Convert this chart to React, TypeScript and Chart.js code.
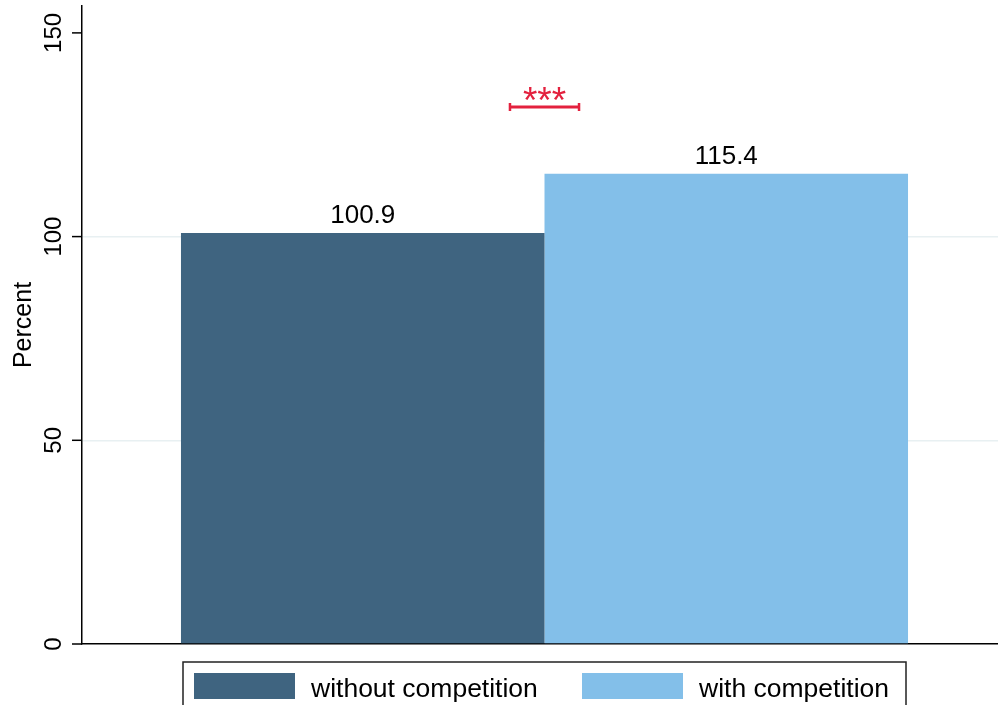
import React, { useEffect, useRef } from 'react';
import { Chart, registerables } from 'chart.js';

Chart.register(...registerables);

const categories = ['without competition', 'with competition'];
const values = [100.9, 115.4];
const colors = ['#3f6480', '#83bfe9'];
const yTicks = [0, 50, 100, 150];
const gridTicks = [50, 100];
const yTitle = 'Percent';
const significance = '***';
const bracketLevel = 131.8;
const yMax = 156.6;

const FONT = "'Liberation Sans', Arial, Helvetica, sans-serif";
const SIG_COLOR = '#e3213e';

const overlay = {
  id: 'overlay',
  afterDatasetsDraw(chart: any) {
    const ctx = chart.ctx as CanvasRenderingContext2D;
    const y = chart.scales.y;
    const area = chart.chartArea;
    ctx.save();
    ctx.fillStyle = '#000';
    ctx.strokeStyle = '#000';
    ctx.lineWidth = 1.5;
    ctx.font = `24px ${FONT}`;
    yTicks.forEach((t) => {
      const py = y.getPixelForValue(t);
      ctx.beginPath();
      ctx.moveTo(area.left - 10, py);
      ctx.lineTo(area.left, py);
      ctx.stroke();
      ctx.save();
      ctx.translate(area.left - 21, py);
      ctx.rotate(-Math.PI / 2);
      ctx.textAlign = 'center';
      ctx.textBaseline = 'alphabetic';
      ctx.fillText(String(t), 0, 0);
      ctx.restore();
    });
    // axis title
    ctx.save();
    ctx.translate(31, (area.top + area.bottom) / 2);
    ctx.rotate(-Math.PI / 2);
    ctx.textAlign = 'center';
    ctx.textBaseline = 'alphabetic';
    ctx.font = `25px ${FONT}`;
    ctx.fillText(yTitle, 0, 0);
    ctx.restore();

    // value labels
    ctx.font = `26px ${FONT}`;
    ctx.textAlign = 'center';
    ctx.textBaseline = 'alphabetic';
    chart.data.datasets.forEach((ds: any, i: number) => {
      const meta = chart.getDatasetMeta(i);
      meta.data.forEach((bar: any, j: number) => {
        ctx.fillText(Number(ds.data[j]).toFixed(1), bar.x, bar.y - 10);
      });
    });

    // significance bracket
    const b0 = chart.getDatasetMeta(0).data[0];
    const b1 = chart.getDatasetMeta(1).data[0];
    const mid = (b0.x + b1.x) / 2;
    const bw = b1.x - b0.x;
    const half = bw * 0.095;
    const by = y.getPixelForValue(bracketLevel);
    ctx.fillStyle = SIG_COLOR;
    ctx.font = `37px ${FONT}`;
    ctx.fillText(significance, mid, by + 6);
    ctx.strokeStyle = SIG_COLOR;
    ctx.lineWidth = 3;
    ctx.beginPath();
    ctx.moveTo(mid - half, by);
    ctx.lineTo(mid + half, by);
    ctx.stroke();
    ctx.lineWidth = 2.5;
    ctx.beginPath();
    ctx.moveTo(mid - half, by - 4);
    ctx.lineTo(mid - half, by + 4);
    ctx.moveTo(mid + half, by - 4);
    ctx.lineTo(mid + half, by + 4);
    ctx.stroke();

    // legend
    const cx = (area.left + area.right) / 2;
    const top = area.bottom + 18;
    ctx.strokeStyle = '#222';
    ctx.lineWidth = 1.5;
    ctx.strokeRect(cx - 361.5, top, 723, 60);
    const items = [
      { sx: cx - 350.5, tx: cx - 233.5 },
      { sx: cx + 37.5, tx: cx + 154.5 },
    ];
    ctx.font = `26.5px ${FONT}`;
    ctx.textAlign = 'left';
    ctx.textBaseline = 'alphabetic';
    items.forEach((it, i) => {
      ctx.fillStyle = colors[i];
      ctx.fillRect(it.sx, top + 11, 101, 26);
      ctx.fillStyle = '#000';
      ctx.fillText(categories[i], it.tx, top + 35);
    });
    ctx.restore();
  },
};

export default function App() {
  const ref = useRef<HTMLCanvasElement | null>(null);
  useEffect(() => {
    if (!ref.current) return;
    const chart = new Chart(ref.current, {
      type: 'bar',
      data: {
        labels: [''],
        datasets: categories.map((c, i) => ({
          label: c,
          data: [values[i]],
          backgroundColor: colors[i],
          borderWidth: 0,
          barPercentage: 1,
          categoryPercentage: 0.786,
        })),
      },
      options: {
        animation: false,
        responsive: false,
        devicePixelRatio: 1,
        layout: { padding: { top: 6, bottom: 61, left: 0, right: 0 } },
        plugins: { legend: { display: false }, tooltip: { enabled: false } },
        scales: {
          x: {
            grid: { display: false, drawTicks: false },
            ticks: { display: false },
            border: { display: true, color: '#000', width: 1.5 },
            afterFit: (s: any) => {
              s.height = 0;
            },
          },
          y: {
            min: 0,
            max: yMax,
            afterFit: (s: any) => {
              s.width = 82;
            },
            ticks: { display: false, stepSize: 50 },
            grid: {
              drawTicks: false,
              lineWidth: 1.5,
              color: (c: any) =>
                c.tick && gridTicks.includes(c.tick.value) ? '#e8f0f2' : 'rgba(0,0,0,0)',
            },
            border: { display: true, color: '#000', width: 1.5 },
          },
        },
      } as any,
      plugins: [overlay],
    });
    return () => chart.destroy();
  }, []);
  return (
    <div
      style={{
        position: 'fixed',
        left: 0,
        top: 0,
        width: 998,
        height: 705,
        overflow: 'hidden',
        background: '#fff',
      }}
    >
      <canvas ref={ref} width={1007} height={705} style={{ display: 'block' }} />
    </div>
  );
}
